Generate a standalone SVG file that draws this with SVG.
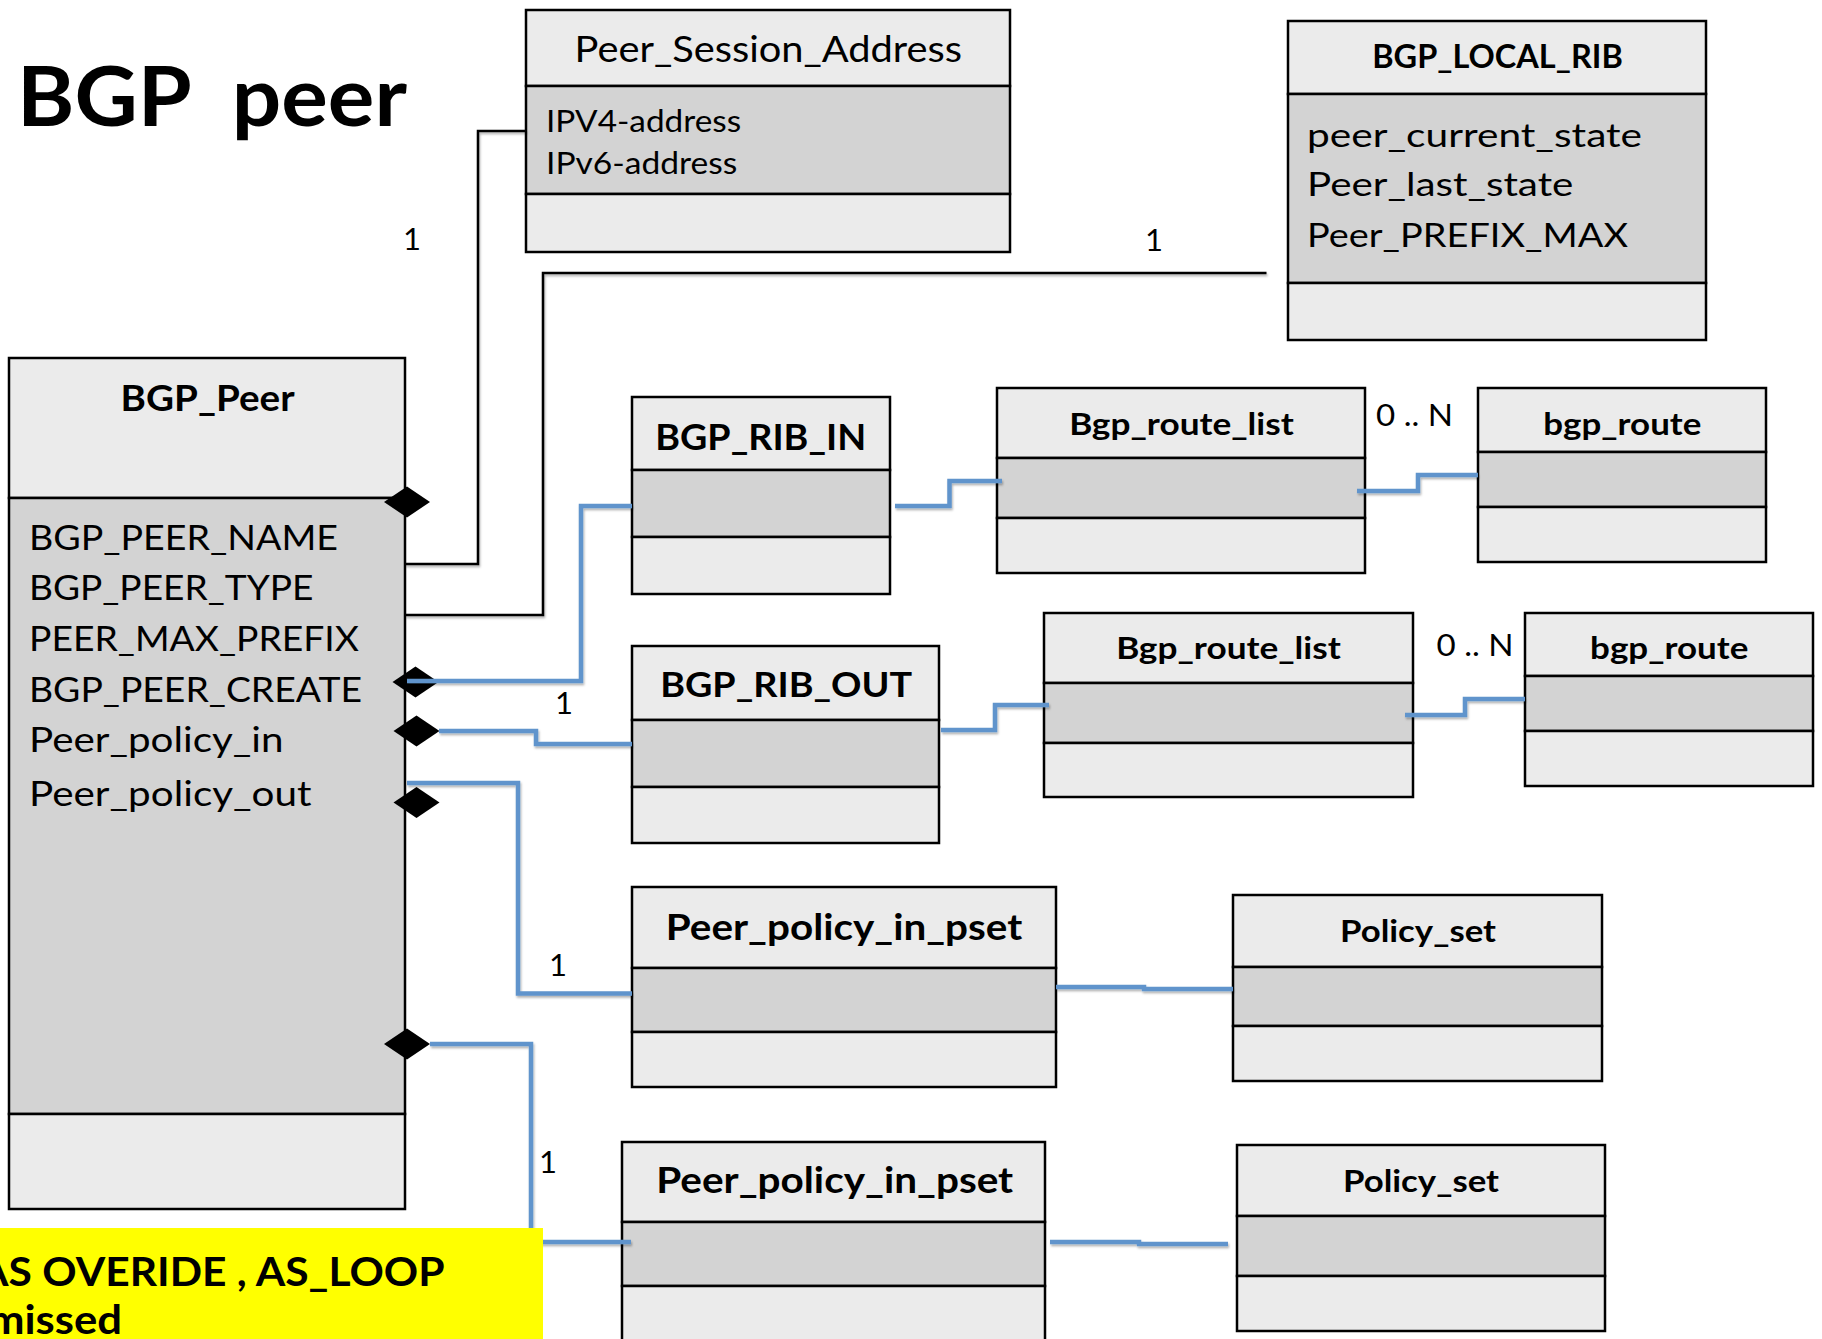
<svg xmlns="http://www.w3.org/2000/svg" width="1822" height="1339" viewBox="0 0 1822 1339">
<defs>
<style>
.hdr{fill:#ebebeb;stroke:#000;stroke-width:2.5}
.att{fill:#d3d3d3;stroke:#000;stroke-width:2.5}
.t{font-family:Lato,"Liberation Sans",sans-serif;fill:#000}
.b{font-weight:700}
.ttl{font-family:Lato,"Liberation Sans",sans-serif;font-weight:700;text-anchor:middle;fill:#000}
.blk{fill:none;stroke:#000;stroke-width:2.5}
.blu{fill:none;stroke:#6094cc;stroke-width:4.5}
.lbl{font-family:Lato,"Liberation Sans",sans-serif;font-size:31px;fill:#000}
.one{text-anchor:middle}
</style>
<filter id="sh" x="-5%" y="-5%" width="110%" height="110%">
<feDropShadow dx="1" dy="2" stdDeviation="1.2" flood-color="#000" flood-opacity="0.3"/>
</filter>
<polygon id="dia" points="-23,0 0,-15.5 23,0 0,15.5" fill="#000"/>
</defs>
<rect x="0" y="0" width="1822" height="1339" fill="#fff"/>

<text class="t b" x="17" y="126" font-size="83" textLength="390" lengthAdjust="spacingAndGlyphs" xml:space="preserve">BGP  peer</text>

<g id="peer_session_address">
<rect class="hdr" x="526" y="10" width="484" height="76"/>
<rect class="att" x="526" y="86" width="484" height="108"/>
<rect class="hdr" x="526" y="194" width="484" height="58"/>
<text class="t" x="768.3" y="61.7" font-size="37" text-anchor="middle" textLength="387.5" lengthAdjust="spacingAndGlyphs">Peer_Session_Address</text>
<text class="t" x="546" y="132.3" font-size="31" textLength="195.2" lengthAdjust="spacingAndGlyphs">IPV4-address</text>
<text class="t" x="546" y="174" font-size="31" textLength="191.4" lengthAdjust="spacingAndGlyphs">IPv6-address</text>
</g>

<g id="bgp_local_rib">
<rect class="hdr" x="1288" y="21" width="418" height="73"/>
<rect class="att" x="1288" y="94" width="418" height="189"/>
<rect class="hdr" x="1288" y="283" width="418" height="57"/>
<text class="ttl" x="1497.5" y="68.3" font-size="32.5" textLength="250.7" lengthAdjust="spacingAndGlyphs">BGP_LOCAL_RIB</text>
<text class="t" x="1307" y="146.7" font-size="32" textLength="335" lengthAdjust="spacingAndGlyphs">peer_current_state</text>
<text class="t" x="1307" y="196" font-size="32" textLength="266.3" lengthAdjust="spacingAndGlyphs">Peer_last_state</text>
<text class="t" x="1307" y="246.7" font-size="32" textLength="321" lengthAdjust="spacingAndGlyphs">Peer_PREFIX_MAX</text>
</g>

<g id="bgp_peer">
<rect class="hdr" x="9" y="358" width="396" height="140"/>
<rect class="att" x="9" y="498" width="396" height="616"/>
<rect class="hdr" x="9" y="1114" width="396" height="95"/>
<text class="ttl" x="207.6" y="410.7" font-size="36" textLength="174" lengthAdjust="spacingAndGlyphs">BGP_Peer</text>
<text class="t" x="29" y="550" font-size="35" textLength="309" lengthAdjust="spacingAndGlyphs">BGP_PEER_NAME</text>
<text class="t" x="29" y="600" font-size="35" textLength="284.5" lengthAdjust="spacingAndGlyphs">BGP_PEER_TYPE</text>
<text class="t" x="29" y="651" font-size="35" textLength="330" lengthAdjust="spacingAndGlyphs">PEER_MAX_PREFIX</text>
<text class="t" x="29" y="701.7" font-size="35" textLength="333" lengthAdjust="spacingAndGlyphs">BGP_PEER_CREATE</text>
<text class="t" x="29" y="752.3" font-size="35" textLength="254.5" lengthAdjust="spacingAndGlyphs">Peer_policy_in</text>
<text class="t" x="29" y="805.7" font-size="35" textLength="282.5" lengthAdjust="spacingAndGlyphs">Peer_policy_out</text>
</g>

<g id="bgp_rib_in">
<rect class="hdr" x="632" y="397" width="258" height="73"/>
<rect class="att" x="632" y="470" width="258" height="67"/>
<rect class="hdr" x="632" y="537" width="258" height="57"/>
<text class="ttl" x="760.7" y="450" font-size="36" textLength="211" lengthAdjust="spacingAndGlyphs">BGP_RIB_IN</text>
</g>

<g id="bgp_route_list_in">
<rect class="hdr" x="997" y="388" width="368" height="70"/>
<rect class="att" x="997" y="458" width="368" height="60"/>
<rect class="hdr" x="997" y="518" width="368" height="55"/>
<text class="ttl" x="1181.6" y="435" font-size="30.5" textLength="224.5" lengthAdjust="spacingAndGlyphs">Bgp_route_list</text>
</g>

<g id="bgp_route_in">
<rect class="hdr" x="1478" y="388" width="288" height="64"/>
<rect class="att" x="1478" y="452" width="288" height="55"/>
<rect class="hdr" x="1478" y="507" width="288" height="55"/>
<text class="ttl" x="1622.3" y="435" font-size="30.5" textLength="158" lengthAdjust="spacingAndGlyphs">bgp_route</text>
</g>

<g id="bgp_rib_out">
<rect class="hdr" x="632" y="646" width="307" height="74"/>
<rect class="att" x="632" y="720" width="307" height="67"/>
<rect class="hdr" x="632" y="787" width="307" height="56"/>
<text class="ttl" x="786.2" y="696.7" font-size="35" textLength="252" lengthAdjust="spacingAndGlyphs">BGP_RIB_OUT</text>
</g>

<g id="bgp_route_list_out">
<rect class="hdr" x="1044" y="613" width="369" height="70"/>
<rect class="att" x="1044" y="683" width="369" height="60"/>
<rect class="hdr" x="1044" y="743" width="369" height="54"/>
<text class="ttl" x="1228.6" y="659.3" font-size="30.5" textLength="224.5" lengthAdjust="spacingAndGlyphs">Bgp_route_list</text>
</g>

<g id="bgp_route_out">
<rect class="hdr" x="1525" y="613" width="288" height="63"/>
<rect class="att" x="1525" y="676" width="288" height="55"/>
<rect class="hdr" x="1525" y="731" width="288" height="55"/>
<text class="ttl" x="1669.2" y="659.3" font-size="30.5" textLength="158.3" lengthAdjust="spacingAndGlyphs">bgp_route</text>
</g>

<g id="peer_policy_in_pset_1">
<rect class="hdr" x="632" y="887" width="424" height="81"/>
<rect class="att" x="632" y="968" width="424" height="64"/>
<rect class="hdr" x="632" y="1032" width="424" height="55"/>
<text class="ttl" x="844" y="940" font-size="36" textLength="356.5" lengthAdjust="spacingAndGlyphs">Peer_policy_in_pset</text>
</g>

<g id="policy_set_1">
<rect class="hdr" x="1233" y="895" width="369" height="72"/>
<rect class="att" x="1233" y="967" width="369" height="59"/>
<rect class="hdr" x="1233" y="1026" width="369" height="55"/>
<text class="ttl" x="1418" y="941.7" font-size="30.5" textLength="156" lengthAdjust="spacingAndGlyphs">Policy_set</text>
</g>

<g id="peer_policy_in_pset_2">
<rect class="hdr" x="622" y="1142" width="423" height="80"/>
<rect class="att" x="622" y="1222" width="423" height="64"/>
<rect class="hdr" x="622" y="1286" width="423" height="70"/>
<text class="ttl" x="834.7" y="1193.3" font-size="36" textLength="357" lengthAdjust="spacingAndGlyphs">Peer_policy_in_pset</text>
</g>

<g id="policy_set_2">
<rect class="hdr" x="1237" y="1145" width="368" height="71"/>
<rect class="att" x="1237" y="1216" width="368" height="60"/>
<rect class="hdr" x="1237" y="1276" width="368" height="55"/>
<text class="ttl" x="1421" y="1191.7" font-size="30.5" textLength="156" lengthAdjust="spacingAndGlyphs">Policy_set</text>
</g>

<g id="connectors">
<use href="#dia" x="407" y="502"/>
<use href="#dia" x="415.5" y="682"/>
<use href="#dia" x="416.5" y="731"/>
<use href="#dia" x="416.5" y="802.5"/>
<use href="#dia" x="407" y="1044"/>
<g filter="url(#sh)">
<path class="blk" d="M405,564 H478 V131 H526"/>
<path class="blk" d="M405,615 H543 V273 H1266.5"/>
<path class="blu" d="M407,681 H581 V506 H632"/>
<path class="blu" d="M895,506 H949.5 V481 H1002"/>
<path class="blu" d="M1357,491 H1418 V475 H1478"/>
<path class="blu" d="M439,731 H536 V744 H632"/>
<path class="blu" d="M941,730 H995 V705 H1049"/>
<path class="blu" d="M1405,715 H1465 V699 H1525"/>
<path class="blu" d="M407,783 H518 V993.5 H632"/>
<path class="blu" d="M430,1044 H531 V1242 H631"/>
<path class="blu" d="M1056,987 H1144 V989 H1233"/>
<path class="blu" d="M1050,1242 H1139 V1244 H1228"/>
</g>
<text class="lbl one" x="412" y="250">1</text>
<text class="lbl one" x="1154" y="250.7">1</text>
<text class="lbl one" x="564" y="714">1</text>
<text class="lbl one" x="558" y="976">1</text>
<text class="lbl one" x="548" y="1173">1</text>
<text class="lbl" x="1376" y="426" font-size="30" textLength="77" lengthAdjust="spacingAndGlyphs">0 .. N</text>
<text class="lbl" x="1436.5" y="656" font-size="30" textLength="77" lengthAdjust="spacingAndGlyphs">0 .. N</text>
</g>

<g id="note">
<rect x="-5" y="1228" width="548" height="120" fill="#ffff00"/>
<text class="t b" x="-21" y="1286" font-size="40" textLength="465.6" lengthAdjust="spacingAndGlyphs">AS OVERIDE , AS_LOOP</text>
<text class="t b" x="-12" y="1334" font-size="40" textLength="134" lengthAdjust="spacingAndGlyphs">missed</text>
</g>
</svg>
